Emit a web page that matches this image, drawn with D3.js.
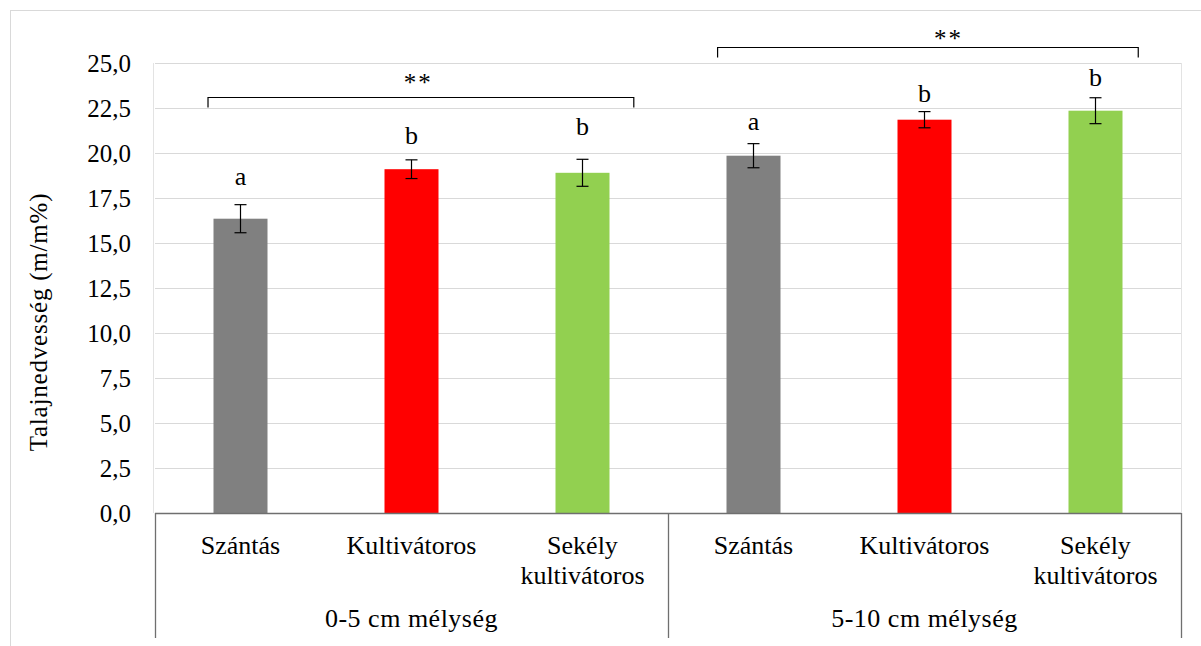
<!DOCTYPE html>
<html>
<head>
<meta charset="utf-8">
<script src="https://cdn.jsdelivr.net/npm/d3@7"></script>
<style>
  body { margin: 0; background: #fff; }
  text { fill: #000; }
</style>
</head>
<body>
<svg id="chart" width="1201" height="646" font-family="'Liberation Serif', 'Times New Roman', serif"></svg>
<script>
// data
var groups = ["0-5 cm mélység", "5-10 cm mélység"];
var treatments = [["Szántás"], ["Kultivátoros"], ["Sekély", "kultivátoros"]];
var colors = ["#808080", "#ff0000", "#92d050"];
var values = [16.35, 19.1, 18.9, 19.85, 21.85, 22.35];
var errors = [0.78, 0.52, 0.75, 0.67, 0.45, 0.72];
var letters = ["a", "b", "b", "a", "b", "b"];
var letterY = [18.2, 20.5, 21.0, 21.3, 22.85, 23.75];
var yTicks = [0, 2.5, 5, 7.5, 10, 12.5, 15, 17.5, 20, 22.5, 25];
// significance brackets: [start, end] in category units within the group, level, star level
var bracketSpan = [[0.31, 2.80], [0.29, 2.75]];
var bracketY = [23.13, 25.87];
var starX = [1.54, 1.64];
var starY = [24.2, 26.65];

var svg = d3.select("#chart");
var plotL = 155, plotR = 1181, plotT = 63, plotB = 513;

var y = d3.scaleLinear().domain([0, 25]).range([plotB, plotT]);
var x = d3.scaleLinear().domain([0, 6]).range([plotL, plotR]);
var barW = 54;

// outer chart border
svg.append("rect")
  .attr("x", 10.5).attr("y", 10.5)
  .attr("width", 1220).attr("height", 660)
  .attr("fill", "none").attr("stroke", "#d9d9d9");

// gridlines
svg.selectAll(".grid")
  .data(yTicks.slice(1))
  .enter().append("line")
    .attr("x1", plotL).attr("x2", plotR)
    .attr("y1", function(d) { return Math.round(y(d)) + 0.5; })
    .attr("y2", function(d) { return Math.round(y(d)) + 0.5; })
    .attr("stroke", "#d9d9d9");

// plot area side edges
[plotL - 1.5, plotR + 0.5].forEach(function(px) {
  svg.append("line")
    .attr("x1", px).attr("x2", px)
    .attr("y1", plotT).attr("y2", plotB)
    .attr("stroke", "#e3e3e3");
});

// y tick labels
svg.selectAll(".ytick")
  .data(yTicks)
  .enter().append("text")
    .attr("x", 131)
    .attr("y", function(d) { return y(d); })
    .attr("dy", "0.34em")
    .attr("text-anchor", "end")
    .attr("font-size", "25px")
    .text(function(d) { return d3.format(".1f")(d).replace(".", ","); });

// y axis title
svg.append("text")
  .attr("transform", "translate(47,322) rotate(-90)")
  .attr("text-anchor", "middle")
  .attr("font-size", "25px")
  .attr("letter-spacing", "0.8px")
  .text("Talajnedvesség  (m/m%)");

// bars
var idx = d3.range(values.length);
svg.selectAll(".bar")
  .data(idx)
  .enter().append("rect")
    .attr("x", function(i) { return x(i + 0.5) - barW / 2; })
    .attr("y", function(i) { return y(values[i]); })
    .attr("width", barW)
    .attr("height", function(i) { return y(0) - y(values[i]); })
    .attr("fill", function(i) { return colors[i % 3]; });

// error bars
var err = svg.selectAll(".err").data(idx).enter().append("g");
err.append("line")
  .attr("x1", function(i) { return x(i + 0.5); })
  .attr("x2", function(i) { return x(i + 0.5); })
  .attr("y1", function(i) { return y(values[i] + errors[i]); })
  .attr("y2", function(i) { return y(values[i] - errors[i]); })
  .attr("stroke", "#000").attr("stroke-width", 1.2);
[1, -1].forEach(function(s) {
  err.append("line")
    .attr("x1", function(i) { return x(i + 0.5) - 6; })
    .attr("x2", function(i) { return x(i + 0.5) + 6; })
    .attr("y1", function(i) { return y(values[i] + s * errors[i]); })
    .attr("y2", function(i) { return y(values[i] + s * errors[i]); })
    .attr("stroke", "#000").attr("stroke-width", 1.2);
});

// letters above bars
svg.selectAll(".letter")
  .data(idx)
  .enter().append("text")
    .attr("x", function(i) { return x(i + 0.5); })
    .attr("y", function(i) { return y(letterY[i]); })
    .attr("text-anchor", "middle")
    .attr("font-size", "26px")
    .text(function(i) { return letters[i]; });

// significance brackets
groups.forEach(function(g, k) {
  var x0 = x(k * 3 + bracketSpan[k][0]), x1 = x(k * 3 + bracketSpan[k][1]);
  var yb = Math.round(y(bracketY[k])) + 0.5;
  svg.append("path")
    .attr("d", "M" + x0 + "," + (yb + 10) + "V" + yb + "H" + x1 + "V" + (yb + 10))
    .attr("fill", "none").attr("stroke", "#000").attr("stroke-width", 1.2);
  svg.append("text")
    .attr("x", x(k * 3 + starX[k]))
    .attr("y", y(starY[k]))
    .attr("dy", "0.55em")
    .attr("text-anchor", "middle")
    .attr("font-size", "25px")
    .attr("letter-spacing", "2px")
    .text("**");
});

// category axis
svg.append("line")
  .attr("x1", plotL).attr("x2", plotR)
  .attr("y1", plotB + 0.5).attr("y2", plotB + 0.5)
  .attr("stroke", "#6f6f6f").attr("stroke-width", 1.3);
[0, 3, 6].forEach(function(c) {
  svg.append("line")
    .attr("x1", Math.round(x(c)) + 0.5).attr("x2", Math.round(x(c)) + 0.5)
    .attr("y1", plotB).attr("y2", 638)
    .attr("stroke", "#6f6f6f").attr("stroke-width", 1.3);
});

idx.forEach(function(i) {
  var t = svg.append("text")
    .attr("text-anchor", "middle")
    .attr("font-size", "26px");
  treatments[i % 3].forEach(function(line, j) {
    t.append("tspan")
      .attr("x", x(i + 0.5))
      .attr("y", 554 + j * 30)
      .text(line);
  });
});

svg.selectAll(".group")
  .data(groups)
  .enter().append("text")
    .attr("x", function(d, k) { return x(k * 3 + 1.5); })
    .attr("y", 627)
    .attr("text-anchor", "middle")
    .attr("font-size", "26px")
    .attr("letter-spacing", "0.5px")
    .text(function(d) { return d; });
</script>
</body>
</html>
